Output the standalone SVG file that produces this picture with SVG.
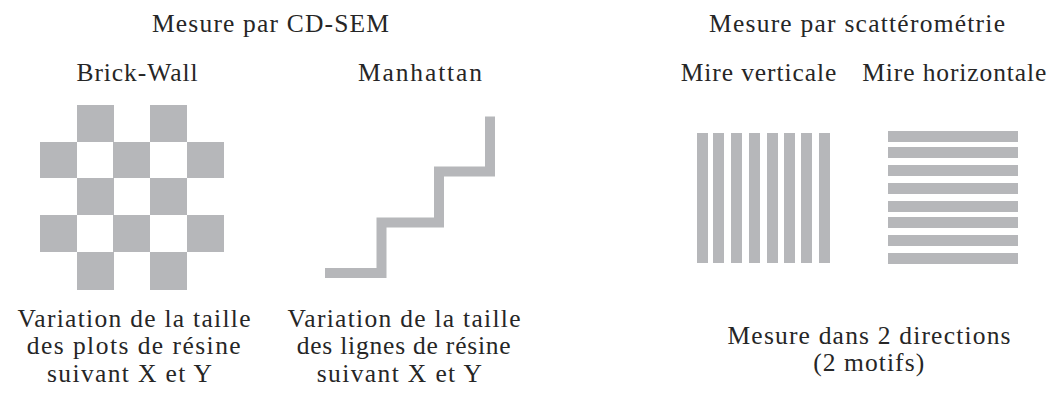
<svg xmlns="http://www.w3.org/2000/svg" width="1056" height="395" viewBox="0 0 1056 395">
  <style>
    .t { font-family: "Liberation Serif", "Times New Roman", serif; font-size: 25.5px; fill: #262626; text-anchor: middle; }
    .g { fill: #b6b7ba; }
    .line { fill: none; stroke: #b6b7ba; stroke-width: 10; stroke-linejoin: miter; stroke-linecap: butt; }
  </style>
  <rect width="1056" height="395" fill="#ffffff"/>

  <g id="titles">
    <text class="t" x="270.5" y="32" textLength="237" lengthAdjust="spacing">Mesure par CD-SEM</text>
    <text class="t" x="857" y="32" textLength="296" lengthAdjust="spacing">Mesure par scattérométrie</text>
  </g>

  <g id="brick-wall">
    <text class="t" x="137" y="81" textLength="121" lengthAdjust="spacing">Brick-Wall</text>
    <rect class="g" x="77" y="105" width="37" height="37"/>
    <rect class="g" x="150" y="105" width="37" height="37"/>
    <rect class="g" x="40" y="142" width="37" height="36"/>
    <rect class="g" x="113" y="142" width="37" height="36"/>
    <rect class="g" x="187" y="142" width="37" height="36"/>
    <rect class="g" x="77" y="178" width="37" height="37"/>
    <rect class="g" x="150" y="178" width="37" height="37"/>
    <rect class="g" x="40" y="215" width="37" height="37"/>
    <rect class="g" x="113" y="215" width="37" height="37"/>
    <rect class="g" x="187" y="215" width="37" height="37"/>
    <rect class="g" x="77" y="252" width="37" height="38"/>
    <rect class="g" x="150" y="252" width="37" height="38"/>
    <text class="t" x="134" y="326.5" textLength="233" lengthAdjust="spacing">Variation de la taille</text>
    <text class="t" x="133.7" y="354" textLength="214" lengthAdjust="spacing">des plots de résine</text>
    <text class="t" x="129.5" y="381.5" textLength="165" lengthAdjust="spacing">suivant X et Y</text>
  </g>

  <g id="manhattan">
    <text class="t" x="420" y="81" textLength="124" lengthAdjust="spacing">Manhattan</text>
    <polyline class="line" points="325,273 381.5,273 381.5,222.5 439,222.5 439,171.5 490,171.5 490,116.5"/>
    <text class="t" x="404" y="326.5" textLength="233" lengthAdjust="spacing">Variation de la taille</text>
    <text class="t" x="403.7" y="354" textLength="214" lengthAdjust="spacing">des lignes de résine</text>
    <text class="t" x="399.3" y="381.5" textLength="165" lengthAdjust="spacing">suivant X et Y</text>
  </g>

  <g id="mire-verticale">
    <text class="t" x="758.5" y="81" textLength="155.6" lengthAdjust="spacing">Mire verticale</text>
    <rect class="g" x="697" y="133" width="11" height="130"/>
    <rect class="g" x="713" y="133" width="11" height="130"/>
    <rect class="g" x="731" y="133" width="11" height="130"/>
    <rect class="g" x="749" y="133" width="11" height="130"/>
    <rect class="g" x="767" y="133" width="11" height="130"/>
    <rect class="g" x="784" y="133" width="11" height="130"/>
    <rect class="g" x="801" y="133" width="11" height="130"/>
    <rect class="g" x="819" y="133" width="11" height="130"/>
  </g>

  <g id="mire-horizontale">
    <text class="t" x="954.3" y="81" textLength="184" lengthAdjust="spacing">Mire horizontale</text>
    <rect class="g" x="888" y="131" width="130" height="11"/>
    <rect class="g" x="888" y="147" width="130" height="11"/>
    <rect class="g" x="888" y="165" width="130" height="11"/>
    <rect class="g" x="888" y="183" width="130" height="11"/>
    <rect class="g" x="888" y="201" width="130" height="11"/>
    <rect class="g" x="888" y="217" width="130" height="11"/>
    <rect class="g" x="888" y="235" width="130" height="11"/>
    <rect class="g" x="888" y="253" width="130" height="11"/>
  </g>

  <g id="scatterometrie-note">
    <text class="t" x="869" y="344.3" textLength="283" lengthAdjust="spacing">Mesure dans 2 directions</text>
    <text class="t" x="868.7" y="371" textLength="111" lengthAdjust="spacing">(2 motifs)</text>
  </g>
</svg>
